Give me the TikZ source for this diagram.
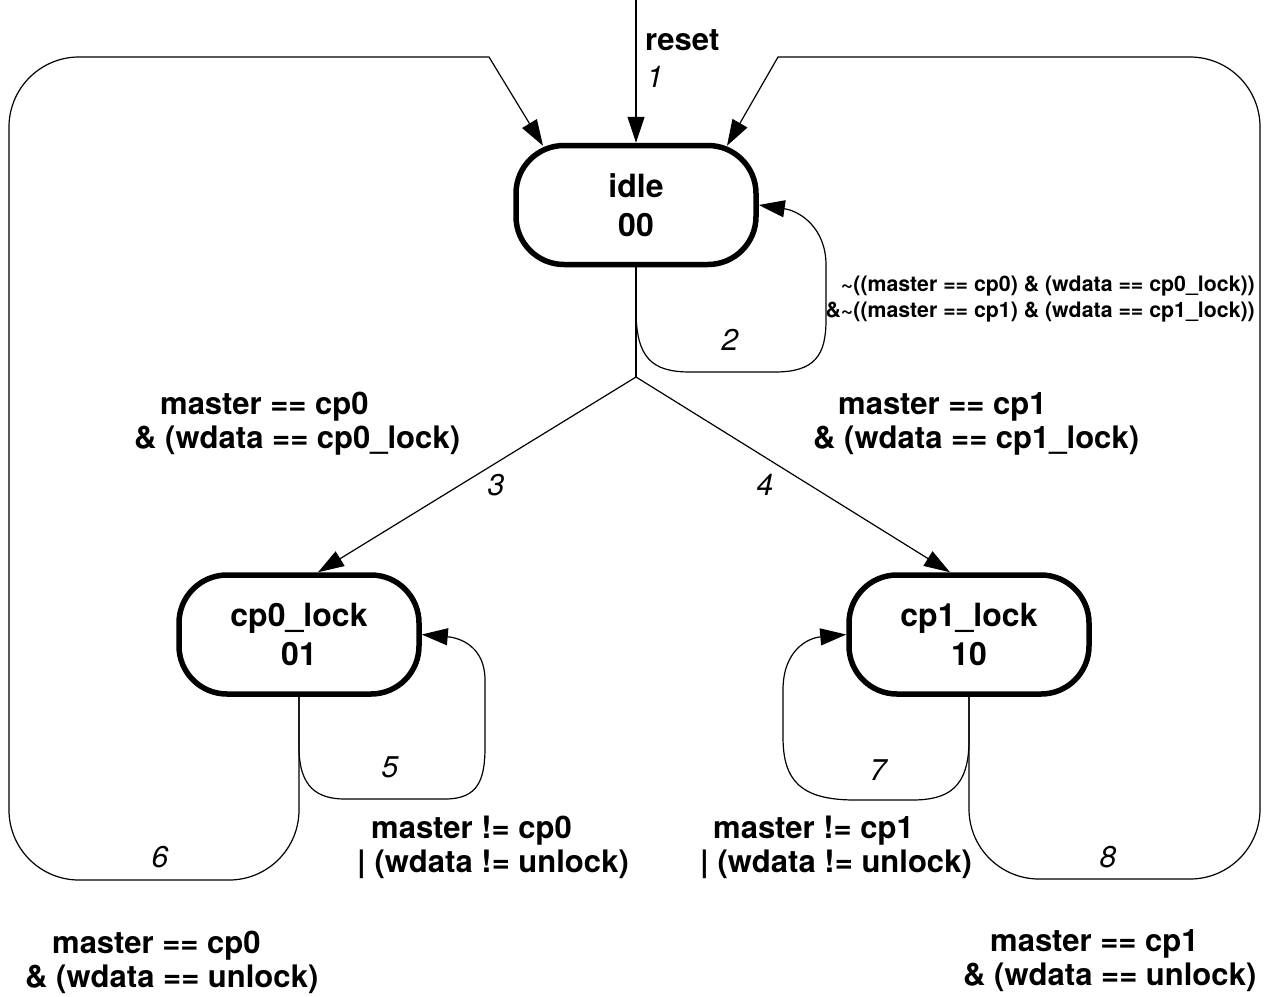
\documentclass[tikz,border=0pt]{standalone}
\usepackage{fontspec}
\setmainfont{TeX Gyre Heros}
\usetikzlibrary{arrows.meta}
\tikzset{
  state/.style={draw, line width=5.5pt, rounded corners=48pt, minimum width=240pt, minimum height=119pt,
    align=center, inner sep=0pt, font=\bfseries\fontsize{32}{39}\selectfont},
  edge/.style={line width=1.2pt, -{Triangle[length=26pt,width=17pt]}},
  plain/.style={line width=1.2pt},
  cond/.style={font=\bfseries\fontsize{31}{34}\selectfont, align=left, inner sep=0pt, anchor=north west},
  small/.style={font=\bfseries\fontsize{21.3}{25.5}\selectfont, align=right, inner sep=0pt, anchor=north east},
  num/.style={font=\itshape\fontsize{30}{36}\selectfont, inner sep=0pt},
}
\begin{document}
\begin{tikzpicture}[x=1pt,y=-1pt]
\useasboundingbox (0,0) rectangle (1273,996);

% states
\node[state] (idle) at (636,205) {idle\\00};
\node[state] (cp0) at (299,634.5) {cp0\_lock\\01};
\node[state] (cp1) at (969,634.5) {cp1\_lock\\10};

% helper coordinates
\coordinate (rs) at (636,0);
\coordinate (br) at (636,377);

% 1: reset
\draw[edge] (rs) -- (idle.north);
\node[font=\bfseries\fontsize{31}{36}\selectfont, inner sep=0pt, anchor=base west] (lreset) at (645,50) {reset};
\node[num] (n1) at (655,77) {1};

% 2: idle self loop
\draw[edge] (idle.south) -- (636,310) .. controls (636,358) and (652,372) .. (690,372)
  -- (775,372) .. controls (815,372) and (826,355) .. (826,320)
  -- (826,265) .. controls (826,228) and (800,211) .. (idle.east);
\node[num] (n2) at (730,340) {2};
\node[small] (l2) at (1255,276) {\textasciitilde((master == cp0) \& (wdata == cp0\_lock))\\
  \&\textasciitilde((master == cp1) \& (wdata == cp1\_lock))};

% 3 and 4
\draw[plain] (idle.south) -- (br);
\draw[edge] (br) -- ([xshift=19pt]cp0.north);
\draw[edge] (br) -- ([xshift=-19pt]cp1.north);
\node[num] (n3) at (496,485) {3};
\node[num] (n4) at (765,485) {4};
\node[cond] (l3) at (134,392) {\hspace*{26pt}master == cp0\\\& (wdata == cp0\_lock)};
\node[cond] (l4) at (813,392) {\hspace*{25pt}master == cp1\\\& (wdata == cp1\_lock)};

% 5: cp0 self loop
\draw[edge] (cp0.south) -- (299,747) .. controls (299,788) and (318,799) .. (345,799)
  -- (445,799) .. controls (478,799) and (485,780) .. (485,747)
  -- (485,680) .. controls (485,648) and (462,638) .. (cp0.east);
\node[num] (n5) at (390,767) {5};
\node[cond] (l5) at (357,816) {\hspace*{14pt}master != cp0\\| (wdata != unlock)};

% 7: cp1 self loop
\draw[edge] (cp1.south) -- (969,740) .. controls (969,788) and (948,800) .. (912,800)
  -- (855,800) .. controls (800,800) and (783,780) .. (783,737)
  -- (783,690) .. controls (783,650) and (808,638) .. (cp1.west);
\node[num] (n7) at (878,770) {7};
\node[cond] (l7) at (700,816) {\hspace*{13pt}master != cp1\\| (wdata != unlock)};

% 6: cp0 back to idle
\draw[edge, rounded corners=70pt] (cp0.south) -- (299,880) -- (9,880) -- (9,57)
  [sharp corners] -- (489,57) -- ([xshift=-93pt,yshift=-3pt]idle.north);
\node[num] (n6) at (160,857) {6};
\node[cond] (l6) at (25,931) {\hspace*{27pt}master == cp0\\\& (wdata == unlock)};

% 8: cp1 back to idle
\draw[edge, rounded corners=70pt] (cp1.south) -- (969,879) -- (1260,879) -- (1260,57)
  [sharp corners] -- (778,57) -- ([xshift=91pt,yshift=-3pt]idle.north);
\node[num] (n8) at (1108,857) {8};
\node[cond] (l8) at (963,929) {\hspace*{27pt}master == cp1\\\& (wdata == unlock)};
\end{tikzpicture}
\end{document}
